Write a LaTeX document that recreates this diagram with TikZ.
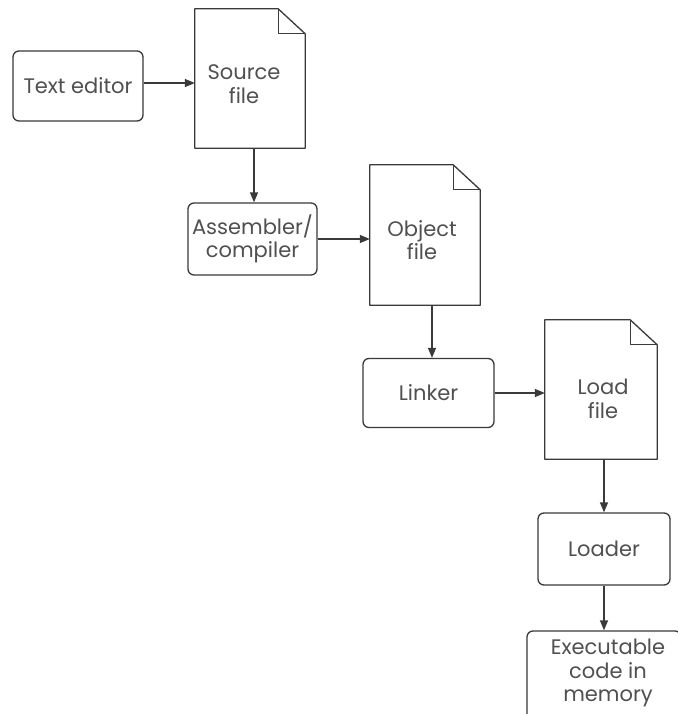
\documentclass[tikz,border=0pt]{standalone}
\usepackage{fontspec}
\setmainfont{Poppins}
\usetikzlibrary{arrows.meta}
\definecolor{ink}{HTML}{3A3A3A}
\definecolor{txt}{HTML}{505050}
\newcommand\docoutline[1]{%
  \draw[line] (#1.north west) -- ([xshift=-27pt]#1.north east) -- ([yshift=-25pt]#1.north east) -- (#1.south east) -- (#1.south west) -- cycle;
  \draw[line] ([xshift=-27pt]#1.north east) |- ([yshift=-25pt]#1.north east);}
\begin{document}
\begin{tikzpicture}[x=1pt,y=-1pt,
  line/.style={draw=ink,line width=1.3pt,line join=round},
  arr/.style={line,-{Triangle[length=10pt,width=8pt]}},
  lbl/.style={text=txt,font=\fontsize{21}{23.5}\selectfont,align=center},
  box/.style={line,rounded corners=6pt,lbl,inner sep=0pt},
  doc/.style={inner sep=0pt,minimum width=110pt,minimum height=140pt}]
\useasboundingbox (0,0) rectangle (677,714);
\fill[white] (0,0) rectangle (677,714);
% boxes
\node[box,minimum width=130pt,minimum height=70pt] (te) at (78,86) {Text editor};
\node[box,minimum width=129pt,minimum height=72pt] (asm) at (252.5,239) {Assembler/\\compiler};
\node[box,minimum width=131pt,minimum height=69pt] (lnk) at (428.5,393) {Linker};
\node[box,minimum width=132pt,minimum height=72pt] (ldr) at (604,549) {Loader};
\node[box,minimum width=154pt,minimum height=98pt] (exe) at (604,680) {};
\node[lbl] (exetxt) at (608,673) {Executable\\code in\\memory};
% documents
\node[doc,minimum height=139pt] (src) at (250,78.5) {};
\node[lbl] (srctxt) at (244,84) {Source\\file};
\node[doc] (obj) at (425,235) {};
\node[lbl] (objtxt) at (422,240) {Object\\file};
\node[doc,minimum width=112pt,minimum height=139pt] (lod) at (601,389.5) {};
\node[lbl] (lodtxt) at (603,399) {Load\\file};
\docoutline{src}
\docoutline{obj}
\docoutline{lod}
% connectors
\coordinate (t1) at ([yshift=3pt]te.east);
\draw[arr] (t1) -- (t1 -| src.west);
\coordinate (s1) at ([xshift=4pt]src.south);
\draw[arr] (s1) -- (s1 |- asm.north);
\draw[arr] (asm.east) -- (asm.east -| obj.west);
\coordinate (o1) at ([xshift=7pt]obj.south);
\draw[arr] (o1) -- (o1 |- lnk.north);
\draw[arr] (lnk.east) -- (lnk.east -| lod.west);
\coordinate (l1) at ([xshift=3pt]lod.south);
\draw[arr] (l1) -- (l1 |- ldr.north);
\draw[arr] (ldr.south) -- (ldr.south |- exe.north);
\end{tikzpicture}
\end{document}
